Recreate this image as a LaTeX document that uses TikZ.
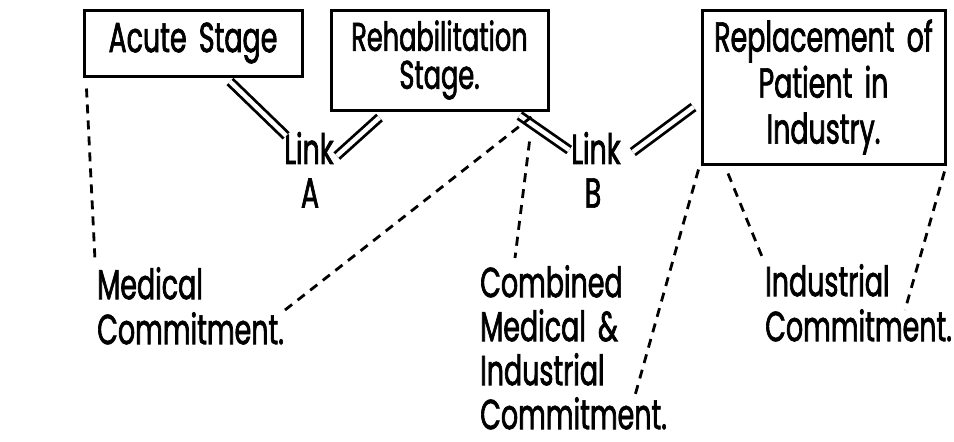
\documentclass[tikz,border=0pt]{standalone}
\usepackage{fontspec}
\setmainfont[FakeStretch=0.64,FakeBold=1.6,WordSpace=1.7]{Poppins}
\begin{document}
\begin{tikzpicture}[x=1pt,y=-1pt,
  every node/.style={inner sep=0pt, font=\fontsize{42}{45}\selectfont},
  stagebox/.style={draw, line width=3pt, align=center},
  lbl/.style={align=left, anchor=north west},
  dbl/.style={double, double distance=4.5pt, line width=2.8pt},
  dsh/.style={line width=2.8pt, dash pattern=on 9pt off 7pt}]
\useasboundingbox (0,0) rectangle (954,442);
% boxes
\node[stagebox, minimum width=218pt, minimum height=66pt] (acute) at (193,43) {Acute Stage};
\node[stagebox, minimum width=217pt, minimum height=100pt, font=\fontsize{40}{38}\selectfont] (rehab) at (439.5,60) {Rehabilitation\\Stage.};
\node[stagebox, minimum width=243pt, minimum height=154pt, font=\fontsize{42}{46}\selectfont] (repl) at (823.5,87) {Replacement of\\Patient in\\Industry.};
% links
\node (linkA) at (309,148) {Link};
\node (letA) at (310,193) {A};
\node (linkB) at (596,148) {Link};
\node (letB) at (593,193) {B};
% commitments
\node[lbl] (medical) at (97,267) {Medical\\Commitment.};
\node[lbl, font=\fontsize{42}{44}\selectfont] (combined) at (480,265) {Combined\\Medical \&\\Industrial\\Commitment.};
\node[lbl] (industrial) at (765,264) {Industrial\\Commitment.};
% double links
\draw[dbl] ([xshift=37pt,yshift=-4pt]acute.south) -- ([xshift=2pt,yshift=-4pt]linkA.north west);
\draw[dbl] ([xshift=-60pt,yshift=-6pt]rehab.south) -- ([xshift=3pt,yshift=-8pt]linkA.east);
\draw[dbl] ([xshift=-30pt,yshift=-4pt]rehab.south east) -- ([xshift=-2pt,yshift=-2pt]linkB.west);
\draw[dbl] ([xshift=12pt,yshift=-4pt]linkB.east) -- ([xshift=-7pt,yshift=-20pt]repl.west);
% dashed commitments
\draw[dsh] ([xshift=4pt,yshift=-11pt]acute.south west) -- ([xshift=-2pt,yshift=7pt]medical.north west);
\draw[dsh] ([xshift=188pt,yshift=-43pt]medical.north west) -- ([xshift=-15pt,yshift=-3pt]rehab.south east);
\draw[dsh] ([xshift=-20pt,yshift=-30pt]rehab.south east) -- ([xshift=35pt,yshift=7pt]combined.north west);
\draw[dsh] ([xshift=-2pt,yshift=-4pt]repl.south west) -- ([xshift=154pt,yshift=-134pt]combined.north west);
\draw[dsh] ([xshift=-95.5pt,yshift=-8pt]repl.south) -- ([xshift=-2pt,yshift=5pt]industrial.north west);
\draw[dsh] ([xshift=-2pt,yshift=-6pt]repl.south east) -- ([xshift=140pt,yshift=-46pt]industrial.north west);
\end{tikzpicture}
\end{document}
